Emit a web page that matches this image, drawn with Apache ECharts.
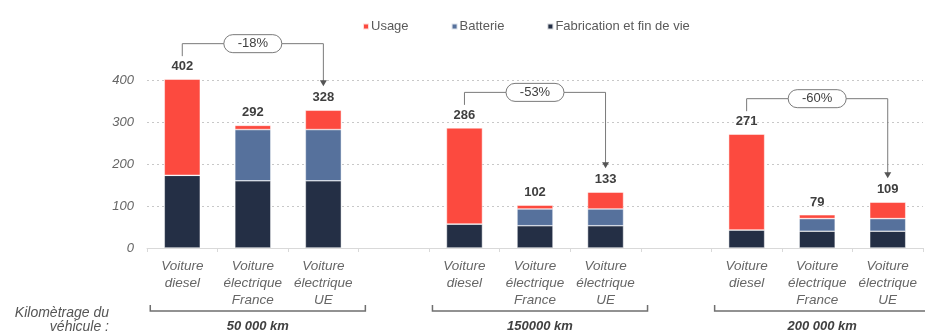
<!DOCTYPE html>
<html>
<head>
<meta charset="utf-8">
<script src="https://cdn.jsdelivr.net/npm/echarts@6/dist/echarts.min.js"></script>
<style>
  html, body { margin: 0; padding: 0; background: #fff; }
  #chart { width: 925px; height: 334px; }
</style>
</head>
<body>
<div id="chart"></div>
<script>
// Emissions par kilomètre (g CO2e/km) selon le kilométrage du véhicule
const categories = [
  'Voiture\ndiesel', 'Voiture\nélectrique\nFrance', 'Voiture\nélectrique\nUE', '',
  'Voiture\ndiesel', 'Voiture\nélectrique\nFrance', 'Voiture\nélectrique\nUE', ' ',
  'Voiture\ndiesel', 'Voiture\nélectrique\nFrance', 'Voiture\nélectrique\nUE'
];
const fabrication = [173, 160, 160, '-', 57, 53, 53, '-', 43, 40, 40];
const batterie    = [0, 122, 122, '-', 0, 40, 40, '-', 0, 30, 30];
const usage       = [229, 10, 46, '-', 229, 9, 40, '-', 228, 9, 39];
const yTicks = { min: 0, max: 400, interval: 100 };

const groupStart  = [0, 4, 8];          // index of the diesel bar of each group
const groupLabels = ['50 000 km', '150000 km', '200 000 km'];
const reductions  = ['-18%', '-53%', '-60%'];

const C_USAGE = '#FC4A3F', C_BATT = '#56719C', C_FAB = '#242F45';
const TXT = '#5a5a5a';
const FONT = 'Liberation Sans, Arial, sans-serif';

function total(i) {
  const v = x => (typeof x === 'number' ? x : 0);
  return v(fabrication[i]) + v(batterie[i]) + v(usage[i]);
}

const chart = echarts.init(document.getElementById('chart'));
const barStyle = c => ({ color: c, borderColor: 'rgba(255,255,255,0.8)', borderWidth: 0.6 });

chart.setOption({
  animation: false,
  textStyle: { fontFamily: FONT },
  legend: {
    data: ['Usage', 'Batterie', 'Fabrication et fin de vie'],
    top: 15, left: 357,
    icon: 'rect', itemWidth: 6, itemHeight: 6, itemGap: 42,
    textStyle: { color: TXT, fontSize: 13, padding: [0, 0, 0, -3] }
  },
  grid: { left: 147, right: 2, top: 80, bottom: 86 },
  xAxis: {
    type: 'category',
    data: categories,
    axisLine: { lineStyle: { color: '#d9d9d9' } },
    axisTick: { show: true, length: 4, lineStyle: { color: '#d9d9d9' } },
    axisLabel: {
      interval: 0, margin: 10, color: '#666', fontSize: 13.5, fontStyle: 'italic',
      lineHeight: 17
    }
  },
  yAxis: {
    type: 'value',
    min: yTicks.min, max: yTicks.max, interval: yTicks.interval,
    axisLine: { show: false },
    axisTick: { show: false },
    axisLabel: { color: '#666', fontSize: 13, fontStyle: 'italic', margin: 13 },
    splitLine: { lineStyle: { color: '#c8c8c8', type: [2, 3], width: 1 } }
  },
  series: [
    { name: 'Fabrication et fin de vie', type: 'bar', stack: 'e', barWidth: 36,
      data: fabrication, itemStyle: barStyle(C_FAB), clip: false },
    { name: 'Batterie', type: 'bar', stack: 'e', data: batterie,
      itemStyle: barStyle(C_BATT), clip: false },
    { name: 'Usage', type: 'bar', stack: 'e', data: usage,
      itemStyle: barStyle(C_USAGE), clip: false,
      label: {
        show: true, position: 'top', distance: 6,
        color: '#3f3f3f', fontWeight: 'bold', fontSize: 13,
        formatter: p => String(total(p.dataIndex))
      }
    }
  ]
});

// Reduction callouts and kilometre brackets
function px(idx, val) {
  return chart.convertToPixel({ xAxisIndex: 0, yAxisIndex: 0 }, [idx, val]);
}
const graphics = [];
const LINE = '#7a7a7a';
groupStart.forEach((d, g) => {
  const u = d + 2;
  const a = px(d, total(d));
  const b = px(u, total(u));
  const yH = a[1] - 35.5;
  const tip = b[1] - 24;
  graphics.push({
    type: 'polyline', silent: true,
    shape: { points: [[a[0], a[1] - 23], [a[0], yH], [b[0], yH], [b[0], tip - 5]] },
    style: { stroke: LINE, lineWidth: 1, fill: null }
  });
  graphics.push({
    type: 'polygon', silent: true,
    shape: { points: [[b[0] - 3.5, tip - 6], [b[0] + 3.5, tip - 6], [b[0], tip]] },
    style: { fill: '#555' }
  });
  const mx = (a[0] + b[0]) / 2;
  graphics.push({
    type: 'rect', silent: true,
    shape: { x: mx - 29, y: yH - 9, width: 58, height: 18, r: 9 },
    style: { fill: '#fff', stroke: LINE, lineWidth: 1 }
  });
  graphics.push({
    type: 'text', silent: true, x: mx, y: yH,
    style: { text: reductions[g], fill: '#404040', fontSize: 13,
      fontFamily: FONT, align: 'center', verticalAlign: 'middle' }
  });

  // bracket under the group
  const x0 = px(d, 0)[0] - 32;
  const x1 = px(u, 0)[0] + 42;
  graphics.push({
    type: 'polyline', silent: true,
    shape: { points: [[x0, 305], [x0, 311], [x1, 311], [x1, 305]] },
    style: { stroke: '#6f6f6f', lineWidth: 1.5, fill: null }
  });
  graphics.push({
    type: 'text', silent: true, x: (x0 + x1) / 2, y: 326,
    style: { text: groupLabels[g], fill: '#404040', fontSize: 13, fontWeight: 'bold',
      fontStyle: 'italic', fontFamily: FONT, align: 'center', verticalAlign: 'middle' }
  });
});
graphics.push({
  type: 'text', silent: true, x: 109, y: 313,
  style: { text: 'Kilomètrage du', fill: '#555', fontSize: 14, fontStyle: 'italic',
    fontFamily: FONT, align: 'right', verticalAlign: 'middle' }
});
graphics.push({
  type: 'text', silent: true, x: 109, y: 327.5,
  style: { text: 'véhicule :', fill: '#555', fontSize: 14, fontStyle: 'italic',
    fontFamily: FONT, align: 'right', verticalAlign: 'middle' }
});
chart.setOption({ graphic: graphics });
</script>
</body>
</html>
